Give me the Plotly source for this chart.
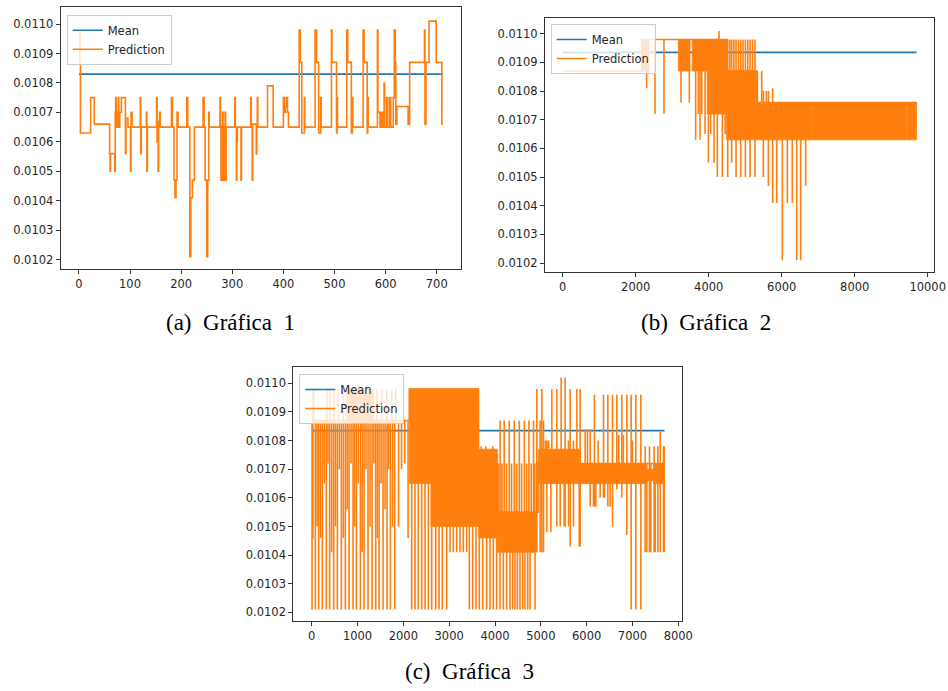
import plotly.graph_objects as go

BLUE = "#1f77b4"
ORANGE = "#ff7f0e"

# ---------------- shared ticks / captions ----------------
y_ticks = [0.0102, 0.0103, 0.0104, 0.0105, 0.0106, 0.0107, 0.0108, 0.0109, 0.0110]
a_xticks = [0, 100, 200, 300, 400, 500, 600, 700]
b_xticks = [0, 2000, 4000, 6000, 8000, 10000]
c_xticks = [0, 1000, 2000, 3000, 4000, 5000, 6000, 7000, 8000]
captions = ["(a)\u2002Gráfica\u20021", "(b)\u2002Gráfica\u20022", "(c)\u2002Gráfica\u20023"]
series_names = ["Mean", "Prediction"]

# ---------------- panel (a) ----------------
a_mean_x = [0, 712]
a_mean_y = [0.01083, 0.01083]
a_x = [0, 2, 3, 23, 30, 60, 61, 62, 70, 71, 72, 73, 76, 77, 78, 80, 83, 91, 92, 96,
       101, 102, 104, 120, 121, 122, 132, 133, 134, 152, 153, 155, 156, 158, 159,
       181, 183, 186, 188, 190, 192, 194, 211, 213, 217, 219, 222, 226, 243, 245,
       247, 250, 252, 254, 255, 276, 277, 278, 279, 280, 281, 282, 283, 284, 286,
       287, 288, 305, 306, 308, 309, 310, 317, 318, 336, 337, 339, 340, 347, 348,
       349, 350, 369, 380, 400, 402, 404, 406, 408, 410, 431, 433, 436, 441, 442,
       462, 465, 469, 473, 474, 494, 495, 504, 505, 506, 524, 526, 533, 535, 536,
       556, 558, 564, 565, 566, 584, 585, 589, 591, 594, 597, 598, 602, 604, 608,
       610, 615, 617, 619, 620, 622, 644, 647, 676, 677, 679, 685, 699, 710, 712]
a_y = [0.01097, 0.01087, 0.01063, 0.01075, 0.01066, 0.01056, 0.01050, 0.01056, 0.01050, 0.01070,
       0.01075, 0.01065, 0.01070, 0.01075, 0.01065, 0.01070, 0.01075, 0.01056, 0.01068, 0.01065,
       0.01050, 0.01070, 0.01065, 0.01075, 0.01056, 0.01065, 0.01070, 0.01050, 0.01065, 0.01075,
       0.01060, 0.01050, 0.01067, 0.01070, 0.01065,
       0.01075, 0.01065, 0.01047, 0.01041, 0.01047, 0.01070, 0.01065, 0.01075, 0.01065, 0.01021,
       0.01041, 0.01047, 0.01065, 0.01075, 0.01065,
       0.01047, 0.01021, 0.01047, 0.01070, 0.01065, 0.01075, 0.01065, 0.01047, 0.01065, 0.01047,
       0.01070, 0.01047, 0.01065, 0.01047, 0.01070,
       0.01047, 0.01065, 0.01075, 0.01065, 0.01047, 0.01060, 0.01065, 0.01047, 0.01065, 0.01075,
       0.01065, 0.01047, 0.01066, 0.01056, 0.01065,
       0.01075, 0.01065, 0.01079, 0.01065, 0.01075, 0.01070, 0.01072, 0.01075, 0.01070, 0.01065,
       0.01098, 0.01087, 0.01063, 0.01075, 0.01065,
       0.01098, 0.01087, 0.01063, 0.01075, 0.01065, 0.01098, 0.01087, 0.01063, 0.01075, 0.01065,
       0.01098, 0.01087, 0.01063, 0.01075, 0.01065,
       0.01098, 0.01087, 0.01063, 0.01075, 0.01065, 0.01098, 0.01070, 0.01065, 0.01070, 0.01065,
       0.01080, 0.01065, 0.01075, 0.01065, 0.01075,
       0.01065, 0.01075, 0.01098, 0.01087, 0.01066, 0.01072, 0.01066, 0.01087, 0.01098, 0.01066,
       0.01087, 0.01101, 0.01087, 0.01066, 0.01066]

# ---------------- panel (b) ----------------
b_mean_x = [0, 9696]
b_mean_y = [0.010935, 0.010935]
b_step_x = [0, 2164, 4500, 5330, 9696]
b_step_y = [0.01087, 0.01098, 0.01087, 0.01076, 0.01076]
b_band_x0 = [2164, 3168, 3550, 3960, 4490, 5330, 5870, 6830, 9432]
b_band_x1 = [2364, 3488, 3960, 4490, 5330, 5860, 6815, 9415, 9696]
b_band_lo = [0.01087, 0.01087, 0.01087, 0.01072, 0.01063, 0.01063, 0.01063, 0.01063, 0.01063]
b_band_hi = [0.01098, 0.01098, 0.01098, 0.01098, 0.01087, 0.01076, 0.01076, 0.01076, 0.01076]
b_spike_x = [2300, 2528, 2775, 3241, 3469,
             3643, 3716, 3763, 3808, 3900, 3991, 4054, 4146, 4237, 4283, 4374, 4450,
             4521, 4580, 4630, 4690, 4749, 4815, 4877, 4940, 5005, 5070, 5132, 5200, 5269,
             5333, 5452, 5498, 5580, 5635, 5753, 5863,
             6018, 6155, 6290, 6411, 6520, 6657]
b_spike_lo = [0.01081, 0.01072, 0.01072, 0.01076, 0.01076,
              0.01063, 0.01072, 0.01063, 0.01072, 0.01065, 0.01055, 0.01065, 0.01055, 0.01050, 0.01072, 0.01050, 0.01065,
              0.01050, 0.01063, 0.01055, 0.01063, 0.01050, 0.01063, 0.01050, 0.01063, 0.01050, 0.01063, 0.01050, 0.01063, 0.01050,
              0.01063, 0.01063, 0.01050, 0.01063, 0.01047, 0.01041, 0.01041,
              0.01021, 0.01041, 0.01041, 0.01021, 0.01021, 0.01047]
b_spike_hi = [0.01087, 0.01098, 0.01098, 0.01087, 0.01087,
              0.01098, 0.01098, 0.01098, 0.01098, 0.01098, 0.01098, 0.01098, 0.01098, 0.01098, 0.01101, 0.01098, 0.01098,
              0.01098, 0.01098, 0.01098, 0.01098, 0.01098, 0.01098, 0.01098, 0.01098, 0.01098, 0.01098, 0.01098, 0.01098, 0.01098,
              0.01087, 0.01087, 0.01080, 0.01080, 0.01080, 0.01081, 0.01076,
              0.01076, 0.01076, 0.01076, 0.01076, 0.01076, 0.01076]

# ---------------- panel (c) ----------------
c_mean_x = [0, 7700]
c_mean_y = [0.010835, 0.010835]
c_step_x = [0, 25, 2130, 3640, 4050, 4940, 7700]
c_step_y = [0.01046, 0.01087, 0.01098, 0.01075, 0.01055, 0.01072, 0.01072]
c_band_x0 = [764, 2130, 2130, 2600, 3640, 4050, 4950, 5860, 7290, 7460]
c_band_x1 = [1345, 3640, 2600, 3640, 4050, 4900, 5860, 7290, 7460, 7700]
c_band_lo = [0.01087, 0.01087, 0.01065, 0.01050, 0.01046, 0.01041, 0.01065, 0.01065, 0.01066, 0.01065]
c_band_hi = [0.01098, 0.01098, 0.01087, 0.01087, 0.01077, 0.01055, 0.01077, 0.01072, 0.01070, 0.01072]
c_spike_x = [7, 80, 152, 232, 319, 392, 480, 560, 647, 734, 814, 902, 975, 1062, 1142, 1229, 1317, 1397, 1470, 1557, 1644, 1717, 1812,
             30, 44, 330, 400, 487, 582, 691, 1418, 1527, 1636, 1745, 1833,
             116, 192, 275, 355, 436, 520, 603, 690, 774, 858, 938, 1018, 1100, 1185, 1273, 1357, 1433, 1513, 1600, 1680, 1765,
             1895, 1960, 2030, 2103,
             2182, 2254, 2327, 2400, 2473, 2545,
             2618, 2705, 2778, 2850, 2945,
             3018, 3090, 3163, 3236, 3309, 3382,
             3440, 3513, 3585,
             3658, 3731, 3818, 3891, 3964, 4036,
             4109, 4182, 4255, 4327, 4386, 4436, 4487, 4545, 4604, 4654, 4713, 4764, 4873,
             4111, 4200, 4310, 4420, 4530, 4640, 4740, 4840,
             4080, 4150, 4250, 4360, 4470, 4580, 4690, 4790, 4870,
             3700, 3800, 3950,
             4912, 5022, 5240, 5349, 5640, 5786, 5858,
             5443, 5531,
             5967, 6018, 6076, 7604,
             6170, 6367, 6462, 6564, 6658, 6767, 6877, 6971, 7073, 7182,
             7277, 7371, 7473, 7553, 7677,
             4985, 5058, 5131, 5218, 5422, 5509, 5604, 5713, 5837, 6149, 6200, 6294, 6389, 6513, 7313, 7400, 7495, 7691,
             5100, 5170, 6250, 6700, 6800, 7000]
c_spike_lo = [0.01021, 0.01021, 0.01021, 0.01021, 0.01021, 0.01021, 0.01021, 0.01021, 0.01021, 0.01021, 0.01021, 0.01021,
              0.01021, 0.01021, 0.01021, 0.01021, 0.01021, 0.01021, 0.01021, 0.01021, 0.01021, 0.01021, 0.01021,
              0.01087, 0.01087, 0.01087, 0.01087, 0.01087, 0.01087, 0.01087, 0.01087, 0.01087, 0.01087, 0.01087, 0.01087,
              0.01050, 0.01046, 0.01065, 0.01072, 0.01041, 0.01050, 0.01070, 0.01046, 0.01056, 0.01072, 0.01050,
              0.01065, 0.01041, 0.01070, 0.01050, 0.01072, 0.01046, 0.01065, 0.01056, 0.01070, 0.01050,
              0.01050, 0.01070, 0.01072, 0.01046,
              0.01021, 0.01021, 0.01021, 0.01021, 0.01021, 0.01021,
              0.01021, 0.01021, 0.01021, 0.01021, 0.01021,
              0.01041, 0.01041, 0.01041, 0.01041, 0.01041, 0.01041,
              0.01021, 0.01021, 0.01021,
              0.01021, 0.01021, 0.01021, 0.01021, 0.01021, 0.01021,
              0.01021, 0.01021, 0.01021, 0.01021, 0.01021, 0.01021, 0.01021, 0.01021, 0.01021, 0.01021, 0.01021, 0.01021, 0.01021,
              0.01055, 0.01055, 0.01055, 0.01055, 0.01055, 0.01055, 0.01055, 0.01055,
              0.01055, 0.01055, 0.01055, 0.01055, 0.01055, 0.01055, 0.01055, 0.01055, 0.01055,
              0.01075, 0.01075, 0.01075,
              0.01041, 0.01041, 0.01065, 0.01050, 0.01043, 0.01065, 0.01043,
              0.01072, 0.01050,
              0.01065, 0.01065, 0.01057, 0.01041,
              0.01057, 0.01060, 0.01057, 0.01050, 0.01063, 0.01060, 0.01047, 0.01021, 0.01021, 0.01021,
              0.01041, 0.01041, 0.01041, 0.01041, 0.01041,
              0.01041, 0.01041, 0.01048, 0.01048, 0.01050, 0.01050, 0.01050, 0.01050, 0.01043, 0.01057, 0.01057, 0.01060,
              0.01060, 0.01057, 0.01041, 0.01041, 0.01041, 0.01041,
              0.01065, 0.01065, 0.01065, 0.01065, 0.01065, 0.01065]
c_spike_hi = [0.01087, 0.01087, 0.01087, 0.01087, 0.01087, 0.01087, 0.01087, 0.01087, 0.01087, 0.01087, 0.01087, 0.01087,
              0.01087, 0.01087, 0.01087, 0.01087, 0.01087, 0.01087, 0.01087, 0.01087, 0.01087, 0.01087, 0.01087,
              0.01098, 0.01098, 0.01098, 0.01098, 0.01098, 0.01098, 0.01098, 0.01098, 0.01098, 0.01098, 0.01098, 0.01098,
              0.01087, 0.01087, 0.01087, 0.01087, 0.01087, 0.01087, 0.01087, 0.01087, 0.01087, 0.01087, 0.01087,
              0.01087, 0.01087, 0.01087, 0.01087, 0.01087, 0.01087, 0.01087, 0.01087, 0.01087, 0.01087,
              0.01087, 0.01087, 0.01087, 0.01087,
              0.01065, 0.01065, 0.01065, 0.01065, 0.01065, 0.01065,
              0.01050, 0.01050, 0.01050, 0.01050, 0.01050,
              0.01050, 0.01050, 0.01050, 0.01050, 0.01050, 0.01050,
              0.01050, 0.01050, 0.01050,
              0.01046, 0.01046, 0.01046, 0.01046, 0.01046, 0.01046,
              0.01041, 0.01041, 0.01041, 0.01041, 0.01041, 0.01041, 0.01041, 0.01041, 0.01041, 0.01041, 0.01041, 0.01041, 0.01041,
              0.01087, 0.01087, 0.01087, 0.01087, 0.01087, 0.01087, 0.01087, 0.01087,
              0.01072, 0.01072, 0.01072, 0.01072, 0.01072, 0.01072, 0.01072, 0.01072, 0.01072,
              0.01078, 0.01078, 0.01078,
              0.01098, 0.01098, 0.01098, 0.01098, 0.01098, 0.01098, 0.01098,
              0.01102, 0.01102,
              0.01084, 0.01084, 0.01084, 0.01083,
              0.01096, 0.01096, 0.01096, 0.01096, 0.01096, 0.01096, 0.01096, 0.01096, 0.01096, 0.01096,
              0.01078, 0.01078, 0.01078, 0.01078, 0.01078,
              0.01087, 0.01087, 0.01080, 0.01077, 0.01077, 0.01077, 0.01080, 0.01080, 0.01077, 0.01072, 0.01072, 0.01072,
              0.01072, 0.01072, 0.01072, 0.01072, 0.01072, 0.01078,
              0.01080, 0.01080, 0.01080, 0.01082, 0.01082, 0.01080]


def spike_xy(xs, los, his):
    X, Y = [], []
    for x, lo, hi in zip(xs, los, his):
        X += [x, x, None]
        Y += [lo, hi, None]
    return X, Y


def band_xy(x0s, x1s, los, his):
    X, Y = [], []
    for x0, x1, lo, hi in zip(x0s, x1s, los, his):
        X += [x0, x1, x1, x0, x0, None]
        Y += [lo, lo, hi, hi, lo, None]
    return X, Y


fig = go.Figure()
LW = 1.6


def add_panel(idx, mean_x, mean_y, step_x, step_y, bands=None, spikes=None):
    xa = "x" if idx == 1 else f"x{idx}"
    ya = "y" if idx == 1 else f"y{idx}"
    lg = "legend" if idx == 1 else f"legend{idx}"
    fig.add_trace(go.Scatter(x=mean_x, y=mean_y, mode="lines", name=series_names[0],
                             line=dict(color=BLUE, width=LW), xaxis=xa, yaxis=ya, legend=lg))
    fig.add_trace(go.Scatter(x=step_x, y=step_y, mode="lines", name=series_names[1],
                             line=dict(color=ORANGE, width=LW, shape="hv"),
                             xaxis=xa, yaxis=ya, legend=lg))
    if bands is not None:
        bx, by = band_xy(*bands)
        fig.add_trace(go.Scatter(x=bx, y=by, mode="lines", fill="toself", fillcolor=ORANGE,
                                 line=dict(color=ORANGE, width=0.8), showlegend=False,
                                 hoverinfo="skip", xaxis=xa, yaxis=ya, legend=lg))
    if spikes is not None:
        sx, sy = spike_xy(*spikes)
        fig.add_trace(go.Scatter(x=sx, y=sy, mode="lines", line=dict(color=ORANGE, width=LW),
                                 showlegend=False, hoverinfo="skip", xaxis=xa, yaxis=ya, legend=lg))


add_panel(1, a_mean_x, a_mean_y, a_x, a_y)
add_panel(2, b_mean_x, b_mean_y, b_step_x, b_step_y,
          (b_band_x0, b_band_x1, b_band_lo, b_band_hi), (b_spike_x, b_spike_lo, b_spike_hi))
add_panel(3, c_mean_x, c_mean_y, c_step_x, c_step_y,
          (c_band_x0, c_band_x1, c_band_lo, c_band_hi), (c_spike_x, c_spike_lo, c_spike_hi))

W, H = 948, 691
tickfont = dict(family="DejaVu Sans", size=11.5, color="#262626")


def axis_common():
    return dict(showline=True, linecolor="#333333", linewidth=1, mirror=True,
                ticks="outside", ticklen=4, tickcolor="#333333", tickwidth=1,
                showgrid=False, zeroline=False, tickfont=tickfont, automargin=False)


# panel pixel boxes (left, right, top, bottom)
boxes = [(60.7, 461.0, 7.3, 268.7), (545.0, 934.3, 18.3, 272.3), (293.3, 682.3, 367.3, 621.0)]
xranges = [[-35.6, 747.5], [-485, 10181], [-402, 8087]]
yranges = [[0.010169, 0.011057], [0.010168, 0.011054], [0.010170, 0.011056]]
xticks_all = [a_xticks, b_xticks, c_xticks]

layout = dict(width=W, height=H, margin=dict(l=0, r=0, t=0, b=0, autoexpand=False),
              paper_bgcolor="white", plot_bgcolor="white", showlegend=True)
for i, (l, r, t, b) in enumerate(boxes):
    n = "" if i == 0 else str(i + 1)
    xa = axis_common()
    xa.update(domain=[l / W, r / W], range=xranges[i], tickvals=xticks_all[i],
              tickformat="d", anchor="y" + n)
    ya = axis_common()
    ya.update(domain=[1 - b / H, 1 - t / H], range=yranges[i], tickvals=y_ticks,
              tickformat=".4f", anchor="x" + n)
    layout["xaxis" + n] = xa
    layout["yaxis" + n] = ya

legend_pos = [(66.7, 14.7), (550.7, 24.0), (299.3, 374.0)]
for i, (lx, ly) in enumerate(legend_pos):
    key = "legend" if i == 0 else f"legend{i + 1}"
    layout[key] = dict(x=lx / W, y=1 - ly / H, xanchor="left", yanchor="top",
                       bgcolor="rgba(255,255,255,0.8)", bordercolor="#cccccc", borderwidth=1,
                       font=dict(family="DejaVu Sans", size=11.5, color="#262626"),
                       itemwidth=30, tracegroupgap=0)

cap_pos = [(230, 322), (706, 322), (469, 671)]
annotations = []
for txt, (cx, cy) in zip(captions, cap_pos):
    annotations.append(dict(text=txt, x=cx / W, y=1 - cy / H, xref="paper", yref="paper",
                            xanchor="center", yanchor="middle", showarrow=False,
                            font=dict(family="Liberation Serif", size=23, color="black")))
layout["annotations"] = annotations

fig.update_layout(**layout)
fig.write_html("out.html", config={"displayModeBar": False},
               post_script="document.body.style.margin='0';document.body.style.overflow='hidden';")
